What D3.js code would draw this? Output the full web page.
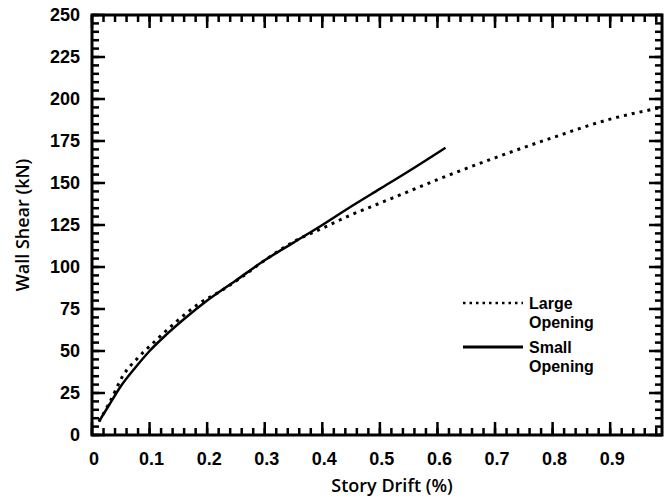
<!DOCTYPE html>
<html>
<head>
<meta charset="utf-8">
<script src="https://cdn.jsdelivr.net/npm/d3@7"></script>
<style>
  body { margin: 0; background: #fff; }
  text { font-family: "Liberation Sans", Arial, sans-serif; fill: #000; }
</style>
</head>
<body>
<div class="canvas"></div>
<script>
// data
const driftSmall = [0.012, 0.03, 0.05, 0.075, 0.1, 0.13, 0.16, 0.2, 0.25, 0.3, 0.35, 0.4, 0.45, 0.5, 0.55, 0.614];
const shearSmall = [8, 18, 29, 40, 50, 60, 69, 80, 92, 104, 114.5, 125, 136, 146.5, 157, 171];

const driftLarge = [0.012, 0.03, 0.055, 0.08, 0.11, 0.145, 0.185, 0.225, 0.26, 0.3, 0.35, 0.4, 0.45, 0.5, 0.55, 0.6, 0.7, 0.8, 0.9, 0.99];
const shearLarge = [8, 19, 36, 46, 56, 67, 78, 86, 94, 104, 115, 123, 131, 138, 145, 152, 165, 177, 188, 195];

const xTicks = [0, 0.1, 0.2, 0.3, 0.4, 0.5, 0.6, 0.7, 0.8, 0.9];
const yTicks = [0, 25, 50, 75, 100, 125, 150, 175, 200, 225, 250];

const xMinor = d3.range(0, 0.99, 0.02);
const yMinor = d3.range(0, 251, 5);

// setup svg
const svg = d3.select('.canvas')
    .append('svg')
    .attr('width', 668)
    .attr('height', 500);

const plotL = 92, plotR = 662, plotT = 15, plotB = 435;

const x = d3.scaleLinear().domain([0, 0.99]).range([plotL, plotR]);
const y = d3.scaleLinear().domain([0, 250]).range([plotB, plotT]);

// frame
svg.append('rect')
    .attr('x', plotL).attr('y', plotT)
    .attr('width', plotR - plotL).attr('height', plotB - plotT)
    .attr('fill', 'none').attr('stroke', '#000').attr('stroke-width', 3);

// inward ticks on all four sides as thin rects
const tickData = [];
xMinor.forEach(v => tickData.push({ v, len: 7, dir: 'x' }));
xTicks.forEach(v => tickData.push({ v, len: 13, dir: 'x' }));
yMinor.forEach(v => tickData.push({ v, len: 7, dir: 'y' }));
yTicks.forEach(v => tickData.push({ v, len: 13, dir: 'y' }));

const tickG = svg.append('g').attr('fill', '#000');
// bottom + top
tickG.selectAll('rect.xb').data(tickData.filter(d => d.dir === 'x')).enter().append('rect')
    .attr('x', d => x(d.v) - 1.25).attr('y', d => plotB - d.len)
    .attr('width', 2.5).attr('height', d => d.len);
tickG.selectAll('rect.xt').data(tickData.filter(d => d.dir === 'x')).enter().append('rect')
    .attr('x', d => x(d.v) - 1.25).attr('y', plotT)
    .attr('width', 2.5).attr('height', d => d.len);
// left + right
tickG.selectAll('rect.yl').data(tickData.filter(d => d.dir === 'y')).enter().append('rect')
    .attr('x', plotL).attr('y', d => y(d.v) - 1.25)
    .attr('width', d => d.len).attr('height', 2.5);
tickG.selectAll('rect.yr').data(tickData.filter(d => d.dir === 'y')).enter().append('rect')
    .attr('x', d => plotR - d.len).attr('y', d => y(d.v) - 1.25)
    .attr('width', d => d.len).attr('height', 2.5);

// tick labels
svg.append('g').selectAll('text')
    .data(xTicks)
    .enter().append('text')
    .attr('x', d => x(d) + 2)
    .attr('y', 465)
    .attr('text-anchor', 'middle')
    .style('font-size', '18px').style('font-weight', 'bold')
    .text(d => d === 0 ? '0' : d3.format('.1f')(d));

svg.append('g').selectAll('text')
    .data(yTicks)
    .enter().append('text')
    .attr('x', 80)
    .attr('y', d => y(d) + 6)
    .attr('text-anchor', 'end')
    .style('font-size', '18px').style('font-weight', 'bold')
    .text(d => d);

// axis titles
svg.append('text')
    .attr('x', 392).attr('y', 492)
    .attr('text-anchor', 'middle')
    .style('font-family', '"Open Sans", sans-serif')
    .style('font-size', '18px').style('font-weight', 600)
    .text('Story Drift (%)');

svg.append('text')
    .attr('transform', 'translate(29,225) rotate(-90)')
    .attr('text-anchor', 'middle')
    .style('font-family', '"Open Sans", sans-serif')
    .style('font-size', '18px').style('font-weight', 600)
    .text('Wall Shear (kN)');

// curves
const line = d3.line()
    .x(d => x(d[0]))
    .y(d => y(d[1]))
    .curve(d3.curveMonotoneX);

svg.append('path')
    .datum(d3.zip(driftLarge, shearLarge))
    .attr('d', line)
    .attr('fill', 'none')
    .attr('stroke', '#000')
    .attr('stroke-width', 3)
    .attr('stroke-dasharray', '3,5');

svg.append('path')
    .datum(d3.zip(driftSmall, shearSmall))
    .attr('d', line)
    .attr('fill', 'none')
    .attr('stroke', '#000')
    .attr('stroke-width', 2.5);

// legend
const legend = svg.append('g');
legend.append('line')
    .attr('x1', 463).attr('x2', 523).attr('y1', 303).attr('y2', 303)
    .attr('stroke', '#000').attr('stroke-width', 2.5).attr('stroke-dasharray', '2.5,4');
legend.append('line')
    .attr('x1', 463).attr('x2', 523).attr('y1', 347).attr('y2', 347)
    .attr('stroke', '#000').attr('stroke-width', 3);

const legendText = [['Large', 309], ['Opening', 328], ['Small', 353], ['Opening', 372]];
legend.selectAll('text')
    .data(legendText)
    .enter().append('text')
    .attr('x', 529)
    .attr('y', d => d[1])
    .style('font-size', '16px').style('font-weight', 'bold')
    .text(d => d[0]);
</script>
</body>
</html>
